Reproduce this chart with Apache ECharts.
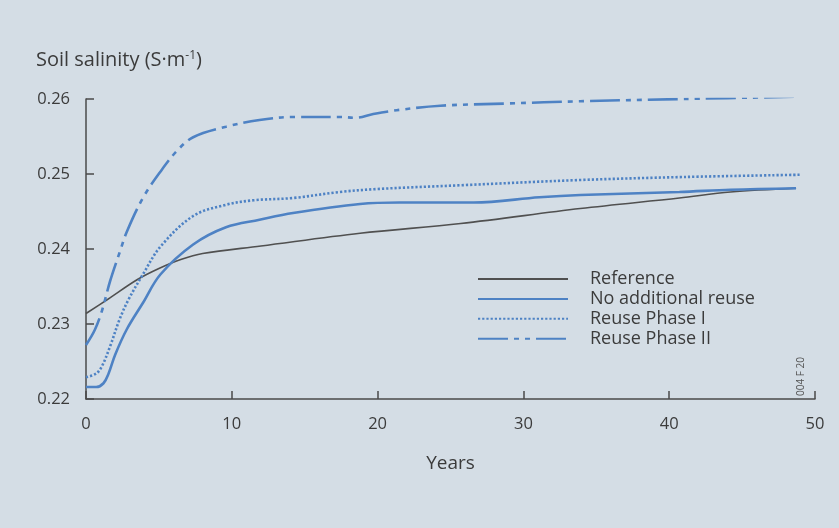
<!DOCTYPE html>
<html>
<head>
<meta charset="utf-8">
<script src="https://cdn.jsdelivr.net/npm/echarts@6/dist/echarts.min.js"></script>
<style>
  html, body { margin: 0; padding: 0; background: #d4dde5; }
  #chart { width: 839px; height: 528px; }
</style>
</head>
<body>
<div id="chart"></div>
<script>
// Soil salinity over 50 years for four water-reuse scenarios
const seriesNames = ['Reference', 'No additional reuse', 'Reuse Phase I', 'Reuse Phase II'];

const refYears  = [0, 1.5, 3.5, 5, 6.5, 8, 12, 18.8, 25.7, 33.9, 40.7, 44.2, 48.7];
const refValues = [0.2314, 0.2333, 0.2359, 0.2374, 0.2386, 0.2394, 0.2404, 0.2421, 0.2434, 0.2454, 0.2468, 0.2476, 0.2481];

const noReuseYears  = [0, 0.7, 1.2, 1.55, 2.0, 2.8, 3.9, 5.1, 7.35, 9.6, 11.9, 14.2, 18.8, 21.5, 26.6, 31.1, 33.9, 40.7, 44.2, 48.7];
const noReuseValues = [0.2216, 0.2216, 0.2221, 0.2234, 0.2259, 0.2293, 0.2328, 0.2366, 0.2406, 0.2429, 0.2439, 0.2448, 0.2460, 0.2462, 0.2462, 0.2469, 0.2472, 0.2476, 0.2479, 0.2481];

const phase1Years  = [0, 0.7, 1.1, 1.65, 2.3, 2.9, 3.9, 5.1, 7.35, 9.6, 11.5, 14.2, 17.4, 20, 25.7, 33.9, 41, 49];
const phase1Values = [0.2229, 0.2234, 0.2244, 0.2270, 0.2306, 0.2332, 0.2366, 0.2403, 0.2444, 0.2459, 0.2465, 0.2468, 0.2476, 0.2480, 0.2485, 0.2492, 0.2496, 0.2499];

const phase2Years  = [0, 0.6, 1.1, 1.65, 2.3, 2.8, 3.9, 5.1, 6.2, 7.35, 9.6, 11.9, 14.2, 17.4, 18.5, 19.7, 21.3, 24.3, 28.9, 33.9, 41, 48.6];
const phase2Values = [0.2272, 0.2292, 0.2318, 0.2357, 0.2395, 0.2423, 0.2468, 0.2503, 0.2530, 0.2549, 0.2563, 0.2572, 0.2576, 0.2576, 0.2575, 0.2580, 0.2585, 0.2591, 0.2594, 0.2597, 0.2600, 0.2603];

const xTicks = [0, 10, 20, 30, 40, 50];
const yTicks = [0.22, 0.23, 0.24, 0.25, 0.26];

const pairs = (xs, ys) => xs.map((x, i) => [x, ys[i]]);

const blue = '#4e82c4';
const ink = '#3b3b3b';
const axisInk = '#4a4a4a';
const font = 'Open Sans';

const chart = echarts.init(document.getElementById('chart'), null, { renderer: 'canvas' });

function lineSeries(name, data, color, width, type) {
  return {
    name: name,
    type: 'line',
    data: data,
    smooth: 0.35,
    symbol: 'none',
    showSymbol: false,
    lineStyle: { color: color, width: width, type: type, cap: 'butt' },
    itemStyle: { color: color },
    emphasis: { disabled: true }
  };
}

chart.setOption({
  backgroundColor: '#d4dde5',
  animation: false,
  title: {
    text: 'Soil salinity (S·m{sup|-1})',
    left: 31,
    top: 45,
    textStyle: {
      fontFamily: font,
      fontSize: 20,
      fontWeight: 'normal',
      color: ink,
      rich: {
        sup: { fontFamily: font, fontSize: 12, color: ink, verticalAlign: 'top', padding: [0, 0, 9, 0] }
      }
    }
  },
  grid: { left: 86, right: 24, top: 99, bottom: 129, containLabel: false },
  legend: {
    orient: 'vertical',
    left: 472,
    top: 265,
    itemWidth: 90,
    itemHeight: 14,
    itemGap: 1.9,
    data: seriesNames,
    itemStyle: { color: 'rgba(0,0,0,0)', borderColor: 'rgba(0,0,0,0)', borderWidth: 0, opacity: 0 },
    textStyle: { fontFamily: font, fontSize: 18, lineHeight: 14, color: ink, padding: [0, 0, 0, 17] }
  },
  xAxis: {
    type: 'value',
    min: 0,
    max: 50,
    interval: 10,
    name: 'Years',
    nameLocation: 'middle',
    nameGap: 55,
    nameTextStyle: { fontFamily: font, fontSize: 19, color: ink },
    axisLine: { onZero: false, lineStyle: { color: axisInk, width: 1.5 } },
    axisTick: { inside: true, length: 8, lineStyle: { color: axisInk, width: 1.5 } },
    axisLabel: {
      margin: 17,
      fontFamily: font, fontSize: 16.5, color: ink,
      formatter: v => (xTicks.indexOf(v) >= 0 ? String(v) : '')
    },
    splitLine: { show: false }
  },
  yAxis: {
    type: 'value',
    min: 0.22,
    max: 0.26,
    interval: 0.01,
    axisLine: { show: true, lineStyle: { color: axisInk, width: 1.5 } },
    axisTick: { show: true, inside: true, length: 8, lineStyle: { color: axisInk, width: 1.5 } },
    axisLabel: {
      margin: 16,
      fontFamily: font, fontSize: 16.5, color: ink,
      formatter: v => {
        const t = yTicks.find(y => Math.abs(y - v) < 1e-9);
        return t === undefined ? '' : t.toFixed(2);
      }
    },
    splitLine: { show: false }
  },
  graphic: [
    {
      type: 'text',
      left: 796,
      top: 357,
      rotation: Math.PI / 2,
      style: { text: '004 F 20', fontFamily: font, fontSize: 10, fill: '#555' }
    }
  ],
  series: [
    lineSeries(seriesNames[0], pairs(refYears, refValues), '#505050', 1.6, 'solid'),
    lineSeries(seriesNames[1], pairs(noReuseYears, noReuseValues), blue, 2.6, 'solid'),
    lineSeries(seriesNames[2], pairs(phase1Years, phase1Values), blue, 2.6, [2.2, 2]),
    lineSeries(seriesNames[3], pairs(phase2Years, phase2Values), blue, 2.6, [30, 6, 5, 6, 5, 6])
  ]
});
</script>
</body>
</html>
